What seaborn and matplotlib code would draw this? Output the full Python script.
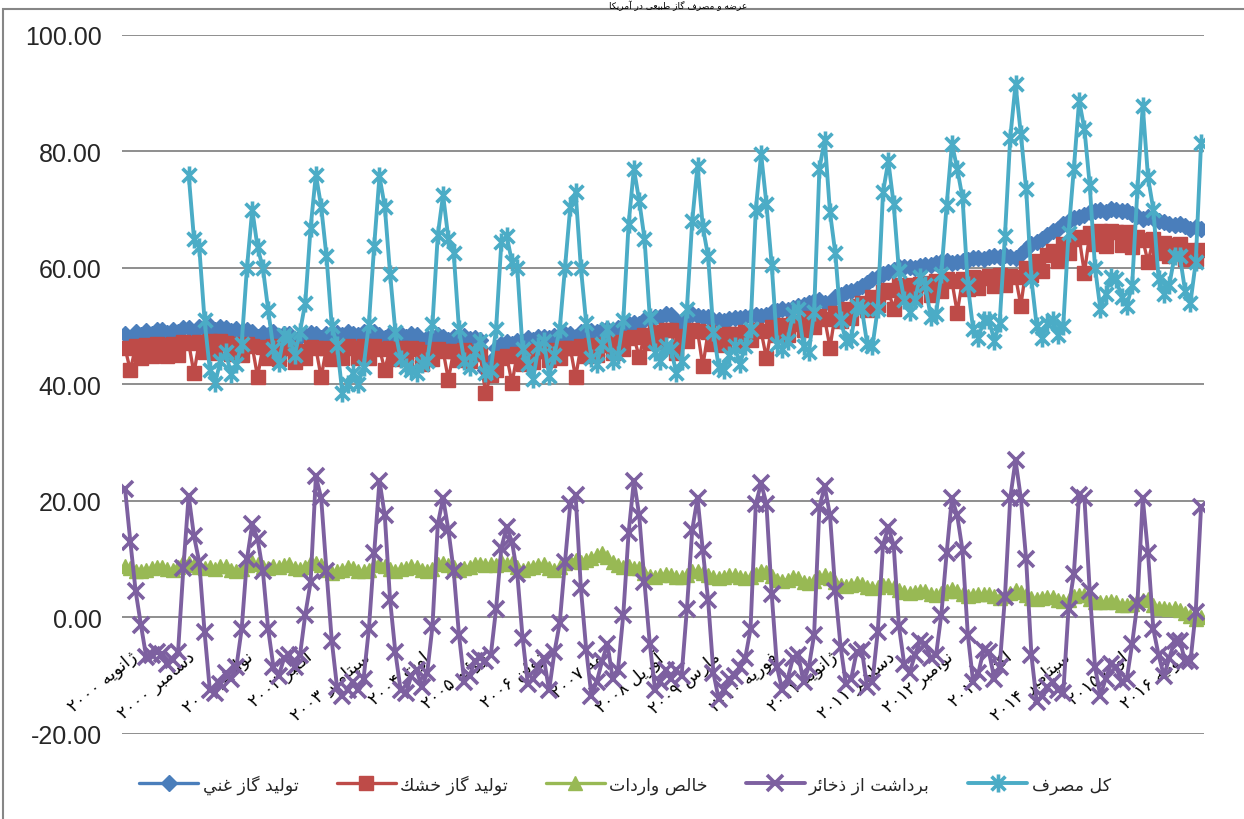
import numpy as np
import pandas as pd
import matplotlib
matplotlib.use("Agg")
import matplotlib.pyplot as plt
import seaborn as sns
from matplotlib.path import Path
from matplotlib.patches import Rectangle
from matplotlib.transforms import offset_copy

# ---------------- data (monthly, Jan 2000 - Dec 2016) ----------------
wet_gas = [
    48.6, 48.0, 48.9, 48.5, 49.2, 48.7, 49.4, 49.3, 48.8, 49.4, 48.9, 49.7,
    49.6, 48.9, 49.8, 49.5, 50.0, 49.4, 49.9, 49.6, 49.1, 49.5, 49.0, 49.4,
    48.9, 48.2, 48.8, 48.4, 48.9, 48.3, 48.7, 48.6, 47.6, 48.2, 48.5, 48.8,
    48.6, 48.0, 48.7, 48.3, 48.8, 48.4, 48.9, 48.7, 48.4, 48.9, 48.5, 48.9,
    48.5, 47.9, 48.6, 48.2, 48.7, 48.2, 48.6, 48.5, 47.3, 48.0, 48.1, 48.4,
    48.2, 47.6, 48.2, 47.9, 48.3, 47.8, 48.0, 47.6, 42.5, 44.0, 46.2, 46.9,
    47.2, 46.9, 47.5, 47.3, 47.9, 47.6, 48.1, 48.2, 48.0, 48.3, 48.4, 48.7,
    48.6, 48.1, 48.9, 48.7, 49.2, 48.9, 49.3, 49.5, 49.2, 49.7, 50.0, 50.4,
    50.6, 50.4, 51.0, 51.2, 51.6, 51.5, 52.0, 51.9, 49.2, 50.8, 51.6, 52.0,
    51.8, 51.5, 51.6, 51.1, 51.0, 50.8, 51.2, 51.3, 51.4, 51.6, 51.8, 51.9,
    51.7, 51.9, 52.5, 52.6, 52.9, 52.7, 53.1, 53.4, 53.6, 54.0, 54.3, 54.5,
    53.9, 54.0, 55.0, 55.4, 55.8, 56.0, 56.3, 56.9, 57.4, 58.0, 58.4, 58.9,
    59.3, 59.7, 60.1, 60.2, 60.1, 59.9, 60.3, 60.5, 60.4, 60.9, 61.0, 61.2,
    60.8, 61.0, 61.2, 61.4, 61.7, 61.6, 61.5, 61.8, 62.0, 61.9, 62.2, 61.8,
    61.7, 62.4, 63.3, 64.0, 64.5, 64.9, 65.6, 66.3, 66.7, 67.5, 68.1, 68.6,
    68.8, 69.0, 69.6, 69.8, 70.0, 69.6, 70.1, 69.9, 69.7, 69.8, 69.3, 68.9,
    68.4, 68.8, 68.5, 68.1, 67.9, 67.6, 67.4, 67.5, 67.1, 66.6, 67.0, 66.6,
]
dry_gas = [
    46.2, 42.4, 46.5, 44.6, 46.7, 44.8, 46.9, 46.8, 44.9, 46.9, 45.0, 47.2,
    47.1, 41.9, 47.3, 45.5, 47.5, 45.4, 47.4, 47.1, 45.2, 47.0, 45.1, 46.9,
    46.5, 41.3, 46.4, 44.5, 46.5, 44.4, 46.3, 46.2, 43.8, 45.8, 44.6, 46.4,
    46.2, 41.2, 46.3, 44.4, 46.4, 44.5, 46.5, 46.3, 44.5, 46.5, 44.6, 46.5,
    46.1, 42.5, 46.2, 44.3, 46.3, 44.3, 46.2, 46.1, 43.5, 45.6, 44.3, 46.0,
    45.8, 40.8, 45.8, 44.1, 45.9, 44.0, 45.6, 45.2, 38.5, 41.6, 42.5, 44.6,
    44.9, 40.2, 45.2, 43.5, 45.5, 43.8, 45.7, 45.8, 44.2, 45.9, 44.5, 46.3,
    46.2, 41.2, 46.5, 44.8, 46.7, 45.0, 46.8, 47.0, 45.3, 47.2, 46.0, 47.9,
    48.1, 44.7, 48.4, 47.1, 49.0, 47.3, 49.4, 49.3, 45.3, 48.3, 47.4, 49.4,
    49.2, 43.1, 49.0, 47.0, 48.4, 46.7, 48.6, 48.7, 47.3, 49.0, 47.6, 49.3,
    49.1, 44.5, 49.9, 48.4, 50.2, 48.4, 50.4, 50.7, 49.3, 51.3, 49.9, 51.7,
    51.2, 46.3, 52.2, 50.9, 53.0, 51.4, 53.4, 54.0, 52.7, 55.0, 53.6, 55.9,
    56.2, 52.9, 57.0, 55.3, 57.0, 55.0, 57.2, 57.4, 55.4, 57.7, 56.0, 58.0,
    57.7, 52.3, 58.0, 56.4, 58.5, 56.5, 58.3, 58.6, 56.9, 58.7, 57.1, 58.6,
    58.5, 53.5, 60.0, 58.7, 61.1, 59.5, 62.2, 62.8, 61.2, 64.0, 62.5, 65.0,
    65.2, 59.1, 65.9, 64.0, 66.3, 63.8, 66.4, 66.2, 63.9, 66.1, 63.5, 65.3,
    64.8, 61.0, 64.9, 62.5, 64.3, 62.0, 63.9, 64.0, 61.5, 63.1, 61.5, 63.1,
]
net_imports = [
    8.8, 8.4, 8.0, 7.9, 8.2, 8.5, 8.7, 8.6, 8.3, 8.1, 8.6, 9.6,
    9.4, 9.0, 8.6, 8.4, 8.6, 8.3, 8.8, 8.9, 8.2, 8.0, 8.3, 9.0,
    9.5, 9.2, 8.7, 8.5, 8.8, 8.6, 9.0, 9.1, 8.4, 8.3, 8.7, 9.6,
    9.4, 9.0, 8.1, 7.6, 7.9, 8.2, 8.6, 8.5, 8.0, 7.9, 8.2, 9.0,
    9.1, 8.8, 8.3, 7.9, 8.3, 8.5, 8.8, 8.7, 8.2, 7.9, 8.3, 9.2,
    9.4, 9.0, 8.6, 8.2, 8.5, 8.7, 9.1, 9.2, 9.0, 9.2, 9.0, 9.7,
    9.2, 9.3, 8.6, 8.2, 8.4, 8.6, 9.0, 9.1, 8.4, 8.1, 8.6, 9.3,
    9.7, 9.9, 9.6, 9.8, 10.2, 10.8, 11.0, 10.4, 9.5, 9.0, 8.7, 8.9,
    8.5, 8.4, 7.7, 7.1, 7.0, 7.2, 7.5, 7.3, 7.0, 6.9, 7.2, 7.9,
    8.0, 7.6, 7.2, 6.9, 6.8, 6.9, 7.2, 7.3, 7.0, 6.7, 7.0, 7.5,
    7.9, 7.8, 7.1, 6.4, 6.3, 6.5, 6.9, 6.8, 6.1, 5.9, 6.2, 7.0,
    7.2, 6.8, 6.1, 5.5, 5.4, 5.6, 5.9, 5.8, 5.3, 5.0, 5.2, 5.6,
    5.5, 5.3, 4.7, 4.3, 4.2, 4.4, 4.6, 4.5, 4.1, 3.9, 4.2, 4.6,
    4.8, 4.6, 4.1, 3.7, 3.8, 4.0, 4.1, 4.0, 3.6, 3.3, 3.6, 4.2,
    4.7, 4.4, 3.8, 3.3, 3.2, 3.4, 3.5, 3.5, 3.0, 2.8, 3.0, 3.6,
    3.8, 3.9, 3.2, 2.7, 2.6, 2.7, 2.8, 2.7, 2.2, 2.1, 2.3, 2.8,
    3.0, 3.1, 2.1, 1.6, 1.7, 1.5, 1.6, 1.3, 0.7, 0.3, -0.2, 0.1,
]
storage_withdrawal = [
    22.1, 13.0, 4.5, -1.3, -6.8, -6.5, -6.0, -6.2, -8.0, -7.3, -5.9, 8.4,
    20.9, 14.0, 9.5, -2.5, -12.5, -12.9, -11.5, -9.5, -10.5, -8.5, -2.0, 10.0,
    16.0, 13.5, 8.0, -2.0, -8.5, -10.0, -7.0, -6.5, -8.5, -6.5, 0.5, 6.0,
    24.2, 20.5, 8.0, -4.0, -12.0, -13.5, -12.5, -11.0, -12.5, -10.5, -2.0, 11.0,
    23.5, 17.5, 3.0, -6.0, -12.5, -13.0, -10.0, -9.0, -12.0, -9.5, -1.5, 16.0,
    20.5, 15.0, 8.0, -3.0, -11.0, -10.0, -7.5, -7.0, -7.5, -6.5, 1.5, 12.0,
    15.5, 13.0, 7.5, -3.5, -11.5, -10.5, -8.5, -7.0, -12.5, -6.0, -1.0, 9.5,
    19.5, 21.0, 5.0, -5.5, -13.5, -11.0, -7.5, -4.5, -10.5, -9.0, 0.5, 14.5,
    23.5, 17.5, 6.0, -4.5, -12.5, -11.0, -9.0, -10.5, -9.0, -10.0, 1.5, 15.0,
    20.5, 11.5, 3.0, -9.5, -14.0, -12.5, -10.5, -10.0, -8.5, -7.0, -2.0, 19.5,
    23.0, 19.5, 4.0, -8.5, -12.5, -10.5, -7.0, -6.5, -11.0, -8.5, -3.0, 19.0,
    22.5, 17.5, 4.5, -5.0, -11.5, -10.5, -6.0, -5.5, -12.0, -11.0, -2.5, 12.5,
    15.5, 12.5, -1.5, -8.0, -9.5, -6.5, -4.0, -4.5, -7.0, -6.5, 0.5, 11.0,
    20.5, 17.5, 11.5, -3.0, -11.0, -9.5, -5.5, -6.0, -10.5, -8.5, 3.5, 20.5,
    27.0, 20.5, 10.0, -6.5, -14.5, -13.5, -12.0, -11.0, -12.5, -13.0, 1.5, 7.5,
    21.0, 20.5, 4.5, -8.5, -13.5, -10.5, -8.0, -8.5, -11.0, -10.5, -4.5, 2.5,
    20.5, 11.0, -2.0, -6.5, -10.0, -7.0, -4.0, -4.0, -7.5, -7.5, 1.0, 19.0,
]
consumption = [
    None, None, None, None, None, None, None, None, None, None, None, None,
    76.0, 65.0, 63.5, 51.0, 42.5, 40.3, 44.0, 45.5, 41.8, 43.5, 47.0, 60.0,
    70.0, 63.5, 60.0, 52.8, 46.0, 43.6, 48.5, 48.0, 45.0, 49.0, 54.0, 66.8,
    76.0, 70.5, 62.0, 50.0, 46.7, 38.5, 40.0, 42.0, 40.0, 43.0, 50.4, 63.8,
    75.7, 70.5, 59.0, 49.0, 44.3, 43.0, 42.5, 42.0, 43.5, 44.0, 50.4, 65.6,
    72.5, 65.0, 62.5, 49.5, 44.0, 43.0, 45.5, 47.5, 42.0, 42.5, 49.5, 64.5,
    65.5, 61.0, 60.0, 46.0, 43.5, 41.0, 46.5, 47.5, 41.5, 45.0, 49.5, 60.0,
    70.5, 73.0, 60.0, 50.5, 44.5, 43.5, 47.0, 49.5, 44.0, 45.0, 51.0, 67.5,
    77.0, 71.5, 65.0, 51.5, 45.5, 44.0, 46.5, 46.0, 42.0, 44.0, 53.0, 68.0,
    77.5, 67.0, 62.0, 49.0, 43.0, 42.5, 45.0, 46.5, 43.5, 46.5, 49.5, 70.0,
    79.5, 71.0, 60.5, 47.0, 46.0, 47.5, 52.0, 53.0, 46.5, 45.5, 52.5, 77.0,
    82.0, 69.5, 62.5, 51.0, 47.5, 48.0, 53.5, 53.0, 47.0, 46.5, 53.0, 73.0,
    78.3, 71.0, 59.5, 54.5, 52.5, 54.5, 58.5, 57.0, 51.5, 52.0, 59.0, 70.7,
    81.3, 77.0, 72.0, 57.0, 49.5, 48.0, 51.0, 51.0, 47.5, 50.5, 65.5, 82.3,
    91.5, 83.0, 73.5, 58.0, 50.0, 48.0, 50.5, 51.0, 48.5, 50.0, 66.0, 77.0,
    88.7, 83.8, 74.2, 60.0, 53.0, 55.5, 58.5, 58.0, 55.0, 53.5, 57.0, 73.5,
    87.8, 75.5, 70.0, 58.0, 55.5, 57.0, 62.0, 62.0, 56.0, 54.0, 61.0, 81.4,
]

series_names = ["توليد گاز غني", "توليد گاز خشك", "خالص واردات",
                "برداشت از ذخائر", "كل مصرف"]
tick_labels = [
    "ژانویه ۲۰۰۰", "دسامبر ۲۰۰۰", "نوامبر ۲۰۰۱", "اکتبر ۲۰۰۲", "سپتامبر ۲۰۰۳",
    "اوت ۲۰۰۴", "ژوئیه ۲۰۰۵", "ژوئن ۲۰۰۶", "مه ۲۰۰۷", "آوریل ۲۰۰۸",
    "مارس ۲۰۰۹", "فوریه ۲۰۱۰", "ژانویه ۲۰۱۱", "دسامبر ۲۰۱۱", "نوامبر ۲۰۱۲",
    "اکتبر ۲۰۱۳", "سپتامبر ۲۰۱۴", "اوت ۲۰۱۵", "ژوئیه ۲۰۱۶",
]
tick_step = 11
title_text = "عرضه و مصرف گاز طبیعی در آمریکا"
y_ticks = [-20, 0, 20, 40, 60, 80, 100]

# ---------------- simple Arabic/Persian shaping (matplotlib has no shaper) ----
FORMS = {
    '\u0622': ('\uFE81', '\uFE82', None, None),
    '\u0626': ('\uFE89', '\uFE8A', '\uFE8B', '\uFE8C'),
    '\u0627': ('\uFE8D', '\uFE8E', None, None),
    '\u0628': ('\uFE8F', '\uFE90', '\uFE91', '\uFE92'),
    '\u062A': ('\uFE95', '\uFE96', '\uFE97', '\uFE98'),
    '\u062E': ('\uFEA5', '\uFEA6', '\uFEA7', '\uFEA8'),
    '\u062F': ('\uFEA9', '\uFEAA', None, None),
    '\u0630': ('\uFEAB', '\uFEAC', None, None),
    '\u0631': ('\uFEAD', '\uFEAE', None, None),
    '\u0632': ('\uFEAF', '\uFEB0', None, None),
    '\u0633': ('\uFEB1', '\uFEB2', '\uFEB3', '\uFEB4'),
    '\u0634': ('\uFEB5', '\uFEB6', '\uFEB7', '\uFEB8'),
    '\u0635': ('\uFEB9', '\uFEBA', '\uFEBB', '\uFEBC'),
    '\u0636': ('\uFEBD', '\uFEBE', '\uFEBF', '\uFEC0'),
    '\u0637': ('\uFEC1', '\uFEC2', '\uFEC3', '\uFEC4'),
    '\u0639': ('\uFEC9', '\uFECA', '\uFECB', '\uFECC'),
    '\u063A': ('\uFECD', '\uFECE', '\uFECF', '\uFED0'),
    '\u0641': ('\uFED1', '\uFED2', '\uFED3', '\uFED4'),
    '\u0642': ('\uFED5', '\uFED6', '\uFED7', '\uFED8'),
    '\u0643': ('\uFED9', '\uFEDA', '\uFEDB', '\uFEDC'),
    '\u0644': ('\uFEDD', '\uFEDE', '\uFEDF', '\uFEE0'),
    '\u0645': ('\uFEE1', '\uFEE2', '\uFEE3', '\uFEE4'),
    '\u0646': ('\uFEE5', '\uFEE6', '\uFEE7', '\uFEE8'),
    '\u0647': ('\uFEE9', '\uFEEA', '\uFEEB', '\uFEEC'),
    '\u0648': ('\uFEED', '\uFEEE', None, None),
    '\u064A': ('\uFEF1', '\uFEF2', '\uFEF3', '\uFEF4'),
    '\u067E': ('\uFB56', '\uFB57', '\uFB58', '\uFB59'),
    '\u0698': ('\uFB8A', '\uFB8B', None, None),
    '\u06A9': ('\uFB8E', '\uFB8F', '\uFB90', '\uFB91'),
    '\u06AF': ('\uFB92', '\uFB93', '\uFB94', '\uFB95'),
    '\u06CC': ('\uFBFC', '\uFBFD', '\uFBFE', '\uFBFF'),
}


def _shape(word):
    out = []
    n = len(word)
    for i, ch in enumerate(word):
        f = FORMS.get(ch)
        if f is None:
            out.append(ch)
            continue
        prev = word[i - 1] if i > 0 else None
        nxt = word[i + 1] if i < n - 1 else None
        jp = prev in FORMS and FORMS[prev][2] is not None
        jn = nxt in FORMS and f[2] is not None
        if jp and jn:
            out.append(f[3])
        elif jp:
            out.append(f[1])
        elif jn:
            out.append(f[2])
        else:
            out.append(f[0])
    return "".join(out)


def fa(text):
    toks = text.split(" ")
    vis = []
    for t in reversed(toks):
        if all(('\u06F0' <= c <= '\u06F9') or c.isdigit() for c in t):
            vis.append(t)
        else:
            vis.append(_shape(t)[::-1])
    return " ".join(vis)


# ---------------- figure ----------------
sns.set_style("white")
plt.rcParams["font.family"] = ["DejaVu Sans"]

W, H = 1244, 820
fig = plt.figure(figsize=(W / 100, H / 100), dpi=100)
fig.patch.set_facecolor("white")

ax = fig.add_axes([122.4 / W, 1 - 735 / H, (1203.7 - 122.4) / W, (735 - 35.7) / H])

df = pd.DataFrame({
    "idx": np.arange(len(wet_gas)),
    "wet": wet_gas,
    "dry": dry_gas,
    "imp": net_imports,
    "sto": storage_withdrawal,
    "con": pd.to_numeric(pd.Series(consumption), errors="coerce"),
})

star = Path([(-1, -1), (1, 1), (-1, 1), (1, -1), (0, -1.3), (0, 1.3)],
            [Path.MOVETO, Path.LINETO, Path.MOVETO, Path.LINETO, Path.MOVETO, Path.LINETO])

specs = [
    ("wet", "#4A7EBB", "D", 8.5, 1.0, 2.4, series_names[0]),
    ("dry", "#BE4B48", "s", 10.5, 1.0, 2.4, series_names[1]),
    ("imp", "#98B954", "^", 10.5, 1.0, 2.4, series_names[2]),
    ("sto", "#7D60A0", "x", 11.0, 2.6, 2.8, series_names[3]),
    ("con", "#4BACC6", star, 13.0, 2.6, 2.8, series_names[4]),
]

for i, (col, color, mk, ms, mew, lw, name) in enumerate(specs):
    sub = df[["idx", col]].dropna()
    sns.lineplot(data=sub, x="idx", y=col, ax=ax, color=color, marker=mk,
                 markersize=ms, markeredgecolor=color, markerfacecolor=color,
                 markeredgewidth=mew, linewidth=lw, label=fa(name),
                 errorbar=None, legend=False, zorder=3 + i)

if ax.get_legend() is not None:
    ax.get_legend().remove()

ax.set_xlim(-0.5, len(wet_gas) - 0.5)
ax.set_ylim(-20, 100)
ax.set_yticks(y_ticks)
ax.set_yticklabels([f"{v:.2f}" for v in y_ticks], fontsize=18,
                   fontfamily="Liberation Sans")
ax.set_xticks([])
ax.set_xlabel("")
ax.set_ylabel("")
ax.tick_params(axis="y", length=0, pad=15)
for s in ax.spines.values():
    s.set_visible(False)
ax.yaxis.grid(True, color="#868686", linewidth=1.3)
ax.xaxis.grid(False)
ax.set_axisbelow(True)

# rotated category labels hanging below the zero line
tr = offset_copy(ax.transData, fig=fig, x=4, y=-30, units="dots")
for k, lab in enumerate(tick_labels):
    ax.text(k * tick_step, 0, fa(lab), transform=tr, rotation=40,
            ha="right", va="top", rotation_mode="anchor", fontsize=12.5,
            color="black", clip_on=False)

# legend
handles, labels = ax.get_legend_handles_labels()
fig.legend(handles, labels, loc="center", bbox_to_anchor=(625 / W, 1 - 785 / H),
           ncol=5, frameon=False, fontsize=12.5, handlelength=3.4,
           handletextpad=0.25, columnspacing=2.2, numpoints=1)

# chart-area border and small title in the top strip
fig.patches.append(Rectangle((3 / W, -0.02), 1.2, 1 - 10 / H + 0.02,
                             transform=fig.transFigure, fill=False,
                             edgecolor="#868686", linewidth=1.5))
fig.text(678 / W, 1 - 0.5 / H, fa(title_text), ha="center", va="top",
         fontsize=6.5, color="black")

fig.savefig("out.png", dpi=100, facecolor="white")
